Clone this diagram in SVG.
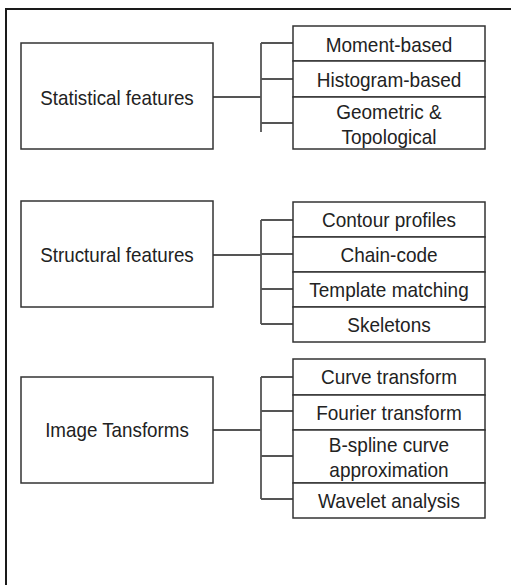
<svg xmlns="http://www.w3.org/2000/svg" width="511" height="585" viewBox="0 0 511 585">
<style>
.frame{fill:none;stroke:#1a1a1a;stroke-width:2}
.box{fill:#fff;stroke:#333;stroke-width:1.5}
.t{font-family:"Liberation Sans",Arial,sans-serif;font-size:20px;fill:#222;text-anchor:middle}
.conn{fill:none;stroke:#555;stroke-width:1.8}
</style>
<rect width="511" height="585" fill="#fff"/>
<rect class="frame" x="6" y="9" width="530" height="600"/>
<g id="connectors">
<path class="conn" d="M213 97 H261 M261 43 V132 M261 43 H293 M261 79 H293 M261 123 H293"/>
<path class="conn" d="M213 255 H261 M261 220 V324 M261 220 H293 M261 254 H293 M261 289 H293 M261 324 H293"/>
<path class="conn" d="M213 430 H261 M261 377 V499 M261 377 H293 M261 411 H293 M261 456 H293 M261 499 H293"/>
</g>
<g id="statistical"><rect class="box" x="21" y="43" width="192" height="106"/><text class="t" transform="translate(117,105) scale(0.94,1)">Statistical features</text></g>
<g id="moment"><rect class="box" x="293" y="26" width="192" height="35"/><text class="t" transform="translate(389,51.5) scale(0.95,1)">Moment-based</text></g>
<g id="histogram"><rect class="box" x="293" y="61" width="192" height="36"/><text class="t" transform="translate(389,86.5) scale(0.95,1)">Histogram-based</text></g>
<g id="geometric"><rect class="box" x="293" y="97" width="192" height="52"/><text class="t" transform="translate(389,119) scale(0.95,1)">Geometric &amp;</text><text class="t" transform="translate(389,144) scale(0.95,1)">Topological</text></g>
<g id="structural"><rect class="box" x="21" y="201" width="192" height="106"/><text class="t" transform="translate(117,262) scale(0.94,1)">Structural features</text></g>
<g id="contour"><rect class="box" x="293" y="202" width="192" height="35"/><text class="t" transform="translate(389,227) scale(0.95,1)">Contour profiles</text></g>
<g id="chaincode"><rect class="box" x="293" y="237" width="192" height="35"/><text class="t" transform="translate(389,262) scale(0.95,1)">Chain-code</text></g>
<g id="template"><rect class="box" x="293" y="272" width="192" height="35"/><text class="t" transform="translate(389,297) scale(0.95,1)">Template matching</text></g>
<g id="skeletons"><rect class="box" x="293" y="307" width="192" height="35"/><text class="t" transform="translate(389,332) scale(0.95,1)">Skeletons</text></g>
<g id="image"><rect class="box" x="21" y="377" width="192" height="106"/><text class="t" transform="translate(117,437) scale(0.94,1)">Image Tansforms</text></g>
<g id="curve"><rect class="box" x="293" y="359" width="192" height="36"/><text class="t" transform="translate(389,384) scale(0.95,1)">Curve transform</text></g>
<g id="fourier"><rect class="box" x="293" y="395" width="192" height="35"/><text class="t" transform="translate(389,419.5) scale(0.95,1)">Fourier transform</text></g>
<g id="bspline"><rect class="box" x="293" y="430" width="192" height="53"/><text class="t" transform="translate(389,452) scale(0.95,1)">B-spline curve</text><text class="t" transform="translate(389,477) scale(0.95,1)">approximation</text></g>
<g id="wavelet"><rect class="box" x="293" y="483" width="192" height="35"/><text class="t" transform="translate(389,508) scale(0.95,1)">Wavelet analysis</text></g>
</svg>
